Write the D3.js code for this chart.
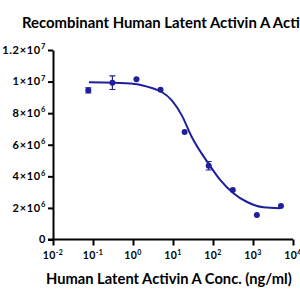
<!DOCTYPE html>
<html>
<head>
<meta charset="utf-8">
<script src="https://cdn.jsdelivr.net/npm/d3@7"></script>
<style>
  body { margin: 0; background: #fff; }
  text { font-family: Lato, "Open Sans", sans-serif; font-weight: 700; }
</style>
</head>
<body>
<svg id="drawing_region"></svg>
<script>
// measured points (ng/ml, signal)
const conc = [0.0763, 0.305, 1.22, 4.88, 19.5, 78.1, 312.5, 1250, 5000];
const signal = [9.45e6, 9.93e6, 10.14e6, 9.49e6, 6.81e6, 4.67e6, 3.13e6, 1.55e6, 2.12e6];
const sem = [0.16e6, 0.43e6, 0, 0, 0, 0.27e6, 0, 0, 0];

// fitted curve
const fit_conc = [0.079, 0.32, 1.12, 2.95, 5.25, 9.33, 16.6, 29.5, 75.9, 151, 324, 692, 1820, 4790];
const fit_signal = [9.95e6, 9.93e6, 9.85e6, 9.59e6, 9.34e6, 8.81e6, 7.86e6, 6.49e6, 4.83e6, 3.78e6, 2.93e6, 2.39e6, 2.04e6, 1.98e6];

const x_exp = [-2, -1, 0, 1, 2, 3, 4];
const y_ticks = [0, 2e6, 4e6, 6e6, 8e6, 1e7, 1.2e7];
const y_tick_mant = ["0", "2", "4", "6", "8", "1", "1.2"];
const y_tick_exp = ["", "6", "6", "6", "6", "7", "7"];

const title = "Recombinant Human Latent Activin A Activity";
const x_label = "Human Latent Activin A Conc. (ng/ml)";

const color = "#1f1f9c";

const config = {
    width: 300,
    height: 300,
    margin: {top: 50, right: 7, bottom: 60.5, left: 53}
};

const svg = d3.select('#drawing_region')
    .attr('width', config.width)
    .attr('height', config.height);

const chart = svg.append('g')
    .attr('transform', `translate(${config.margin.left}, ${config.margin.top})`);

const inner_width = config.width - config.margin.left - config.margin.right;
const inner_height = config.height - config.margin.top - config.margin.bottom;

const xscale = d3.scaleLog()
    .domain([1e-2, 1e4])
    .range([0, inner_width]);

const yscale = d3.scaleLinear()
    .domain([0, 1.2e7])
    .range([inner_height, 0]);

// axes
const xaxis = d3.axisBottom(xscale)
    .tickValues(x_exp.map(e => Math.pow(10, e)))
    .tickFormat('')
    .tickSize(6)
    .tickSizeOuter(0);

const yaxis = d3.axisLeft(yscale)
    .tickValues(y_ticks)
    .tickFormat('')
    .tickSize(5)
    .tickSizeOuter(0);

const xaxis_group = chart.append('g')
    .attr('transform', `translate(0, ${inner_height})`)
    .call(xaxis);

const yaxis_group = chart.append('g')
    .call(yaxis);

[xaxis_group, yaxis_group].forEach(g => {
    g.selectAll('path, line')
        .attr('stroke', '#000')
        .attr('stroke-width', 2);
});
xaxis_group.select('path').attr('d', `M-5,0H${inner_width}`);

// x tick labels
x_exp.forEach(e => {
    const t = xaxis_group.append('text')
        .attr('x', xscale(Math.pow(10, e)))
        .attr('y', 19.5)
        .attr('text-anchor', 'middle')
        .attr('font-size', '10.5px')
        .attr('letter-spacing', '0.4px')
        .attr('fill', '#000');
    t.append('tspan').text('10');
    t.append('tspan')
        .attr('dy', -4.5)
        .attr('font-size', '7px')
        .text(e < 0 ? '-' + (-e) : e);
});

// y tick labels
y_ticks.forEach((v, i) => {
    const t = yaxis_group.append('text')
        .attr('x', -7)
        .attr('y', yscale(v) + 3.8)
        .attr('text-anchor', 'end')
        .attr('font-size', '11px')
        .attr('letter-spacing', '0.7px')
        .attr('fill', '#000');
    if (y_tick_exp[i] === '') {
        t.text(y_tick_mant[i]);
    } else {
        t.append('tspan').text(y_tick_mant[i] + '×10');
        t.append('tspan')
            .attr('dy', -4.5)
            .attr('font-size', '7.5px')
            .text(y_tick_exp[i]);
    }
});

// fitted curve
const line = d3.line()
    .x((d, i) => xscale(fit_conc[i]))
    .y(d => yscale(d))
    .curve(d3.curveMonotoneX);

chart.append('path')
    .attr('d', line(fit_signal))
    .attr('fill', 'none')
    .attr('stroke', color)
    .attr('stroke-width', 2);

// error bars
const points = conc.map((c, i) => ({c: c, v: signal[i], e: sem[i]}));

chart.selectAll('.err')
    .data(points.filter(d => d.e > 0))
    .enter()
    .append('path')
    .attr('class', 'err')
    .attr('fill', 'none')
    .attr('stroke', color)
    .attr('stroke-width', 1.2)
    .attr('d', d => {
        const x = xscale(d.c);
        const y0 = yscale(d.v + d.e);
        const y1 = yscale(d.v - d.e);
        return `M${x - 3},${y0}H${x + 3}M${x},${y0}V${y1}M${x - 3},${y1}H${x + 3}`;
    });

chart.selectAll('circle')
    .data(points)
    .enter()
    .append('circle')
    .attr('cx', d => xscale(d.c))
    .attr('cy', d => yscale(d.v))
    .attr('r', 3)
    .attr('fill', color);

// title and axis label, sized to the widths seen in the reference
function fit_size(sel, str, target, base) {
    sel.attr('font-size', base + 'px').text(str);
    const w = sel.node().getComputedTextLength();
    sel.attr('font-size', (base * target / w) + 'px');
}

const title_text = svg.append('text')
    .attr('x', 22)
    .attr('y', 27.5)
    .attr('fill', '#000');
fit_size(title_text, "Recombinant Human Latent Activin A Acti", 278, 14);
title_text.text(title);

const xlabel_text = svg.append('text')
    .attr('x', 46)
    .attr('y', 284)
    .attr('fill', '#000');
fit_size(xlabel_text, x_label, 246, 15);
</script>
</body>
</html>
